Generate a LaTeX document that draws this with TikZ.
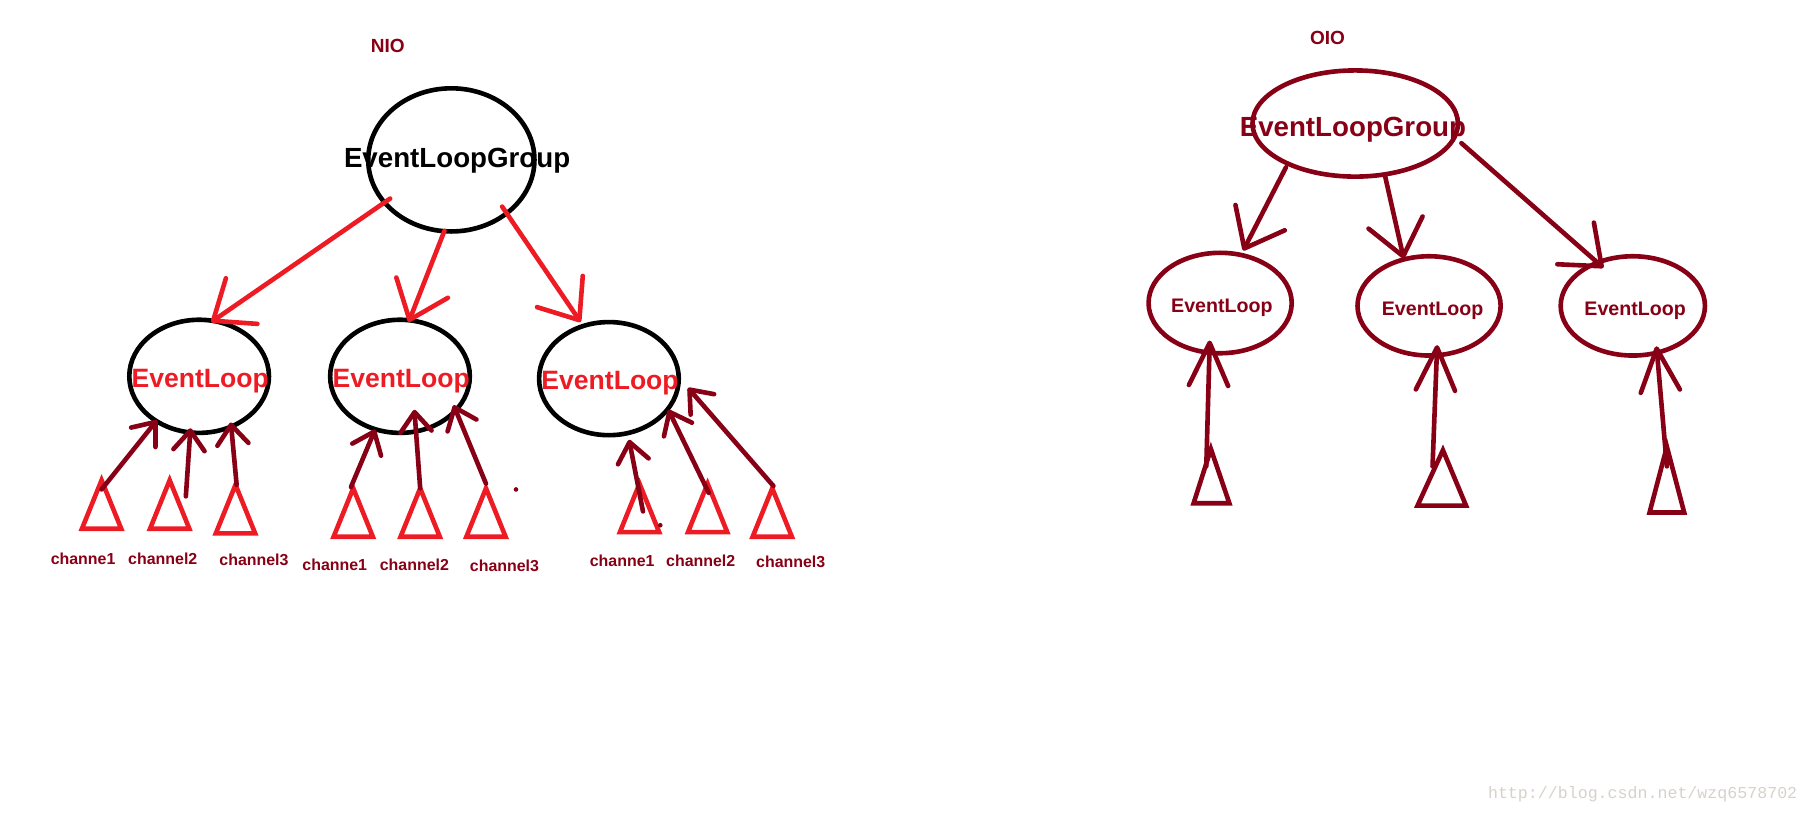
\documentclass[tikz,border=0pt]{standalone}
\usepackage{fontspec}
\setmainfont{Liberation Sans}
\setmonofont{Liberation Mono}
\usetikzlibrary{shapes.geometric,arrows.meta}
\definecolor{paintred}{RGB}{237,28,36}
\definecolor{paintdark}{RGB}{136,0,21}
\definecolor{markgray}{RGB}{214,210,202}
\begin{document}
\begin{tikzpicture}[x=1pt,y=-1pt,
    loop/.style={ellipse,draw,line width=4pt,inner sep=0pt},
    tri/.style={draw=paintred,line width=4pt},
    otri/.style={draw=paintdark,line width=4pt},
    ttl/.style={font=\bfseries\fontsize{16.5}{19}\selectfont,text=paintdark,inner sep=0pt},
    grptxt/.style={font=\bfseries\fontsize{24}{28}\selectfont,anchor=base,inner sep=0pt},
    eltxt/.style={font=\bfseries\fontsize{23}{27}\selectfont,text=paintred,anchor=base,inner sep=0pt},
    oeltxt/.style={font=\bfseries\fontsize{17}{20}\selectfont,text=paintdark,anchor=base,inner sep=0pt},
    chtxt/.style={font=\bfseries\fontsize{13.8}{16}\selectfont,text=paintdark,anchor=base,inner sep=0pt},
    grparrow/.style={line width=4pt,line cap=round,-{Straight Barb[length=30pt,width=48pt,round]}},
    chanarrow/.style={draw=paintdark,line width=4pt,line cap=round,-{Straight Barb[length=17pt,width=27pt,round]}},
    ochanarrow/.style={draw=paintdark,line width=4pt,line cap=round,-{Straight Barb[length=37pt,width=34pt,round]}}]
    \useasboundingbox (0,0) rectangle (1568,707);

    \node[ttl] (nio) at (336,40) {NIO};
    \node[ttl] (oio) at (1150,33) {OIO};

    \node[loop,minimum width=144pt,minimum height=124pt] (ngrp) at (391,138.5) {};
    \node[grptxt] (ngrpt) at (396,145) {EventLoopGroup};
    \node[loop,minimum width=121pt,minimum height=98pt] (nel1) at (172.5,326) {};
    \node[loop,minimum width=121pt,minimum height=98pt] (nel2) at (346.5,326) {};
    \node[loop,minimum width=121pt,minimum height=98pt] (nel3) at (527.5,328) {};
    \node[eltxt] (nel1t) at (173.5,336) {EventLoop};
    \node[eltxt] (nel2t) at (347.5,336) {EventLoop};
    \node[eltxt] (nel3t) at (528.5,337) {EventLoop};

    \draw[grparrow,paintred] ([shift={(-53,33.5)}]ngrp.center) -- ([shift={(10.5,-47)}]nel1.center);
    \draw[grparrow,paintred] ([shift={(-6,61.5)}]ngrp.center) -- ([shift={(7.5,-47)}]nel2.center);
    \draw[grparrow,paintred] ([shift={(44,40.5)}]ngrp.center) -- ([shift={(-24.5,-49)}]nel3.center);

    \foreach \x/\y [count=\i] in {88/416,147/416,204/420,306/423,364/423,421/423,554/419,613/419,669/423}
        \draw[tri] (\x,\y) coordinate (t\i) -- ++(17,42) -- ++(-34,0) -- cycle;

    \foreach \x/\y/\txt [count=\i] in {72/489/channe1,141/489/channel2,220/490/channel3,
        290/494/channe1,359/494/channel2,437/495/channel3,
        539/491/channe1,607/491/channel2,685/492/channel3}
        \node[chtxt] (l\i) at (\x,\y) {\txt};

    \draw[chanarrow] ([shift={(0,8)}]t1) -- ([shift={(-36.5,38)}]nel1.center);
    \draw[chanarrow] ([shift={(14,14)}]t2) -- ([shift={(-7.5,45)}]nel1.center);
    \draw[chanarrow] ([shift={(1,0)}]t3) -- ([shift={(27.5,40)}]nel1.center);
    \draw[chanarrow] ([shift={(-2,-1)}]t4) -- ([shift={(-21.5,46)}]nel2.center);
    \draw[chanarrow] (t5) -- ([shift={(12.5,29)}]nel2.center);
    \draw[chanarrow] ([shift={(0,-4)}]t6) -- ([shift={(46.5,25)}]nel2.center);
    \draw[chanarrow] ([shift={(3,24)}]t7) -- ([shift={(17.5,53)}]nel3.center);
    \draw[chanarrow] ([shift={(1,8)}]t8) -- ([shift={(51.5,27)}]nel3.center);
    \draw[chanarrow] ([shift={(1,-2)}]t9) -- ([shift={(68.5,8)}]nel3.center);
    \fill[paintdark] (447,424) circle (2pt);
    \fill[paintdark] (572,455) circle (2pt);

    \node[loop,draw=paintdark,minimum width=178pt,minimum height=92pt] (ogrp) at (1174,107) {};
    \node[grptxt,text=paintdark] (ogrpt) at (1172,118) {EventLoopGroup};
    \node[loop,draw=paintdark,minimum width=124pt,minimum height=87pt] (oel1) at (1057,262.5) {};
    \node[loop,draw=paintdark,minimum width=124pt,minimum height=86pt] (oel2) at (1238,265) {};
    \node[loop,draw=paintdark,minimum width=125pt,minimum height=86pt] (oel3) at (1414.5,265) {};
    \node[oeltxt] (oel1t) at (1058.5,270.5) {EventLoop};
    \node[oeltxt] (oel2t) at (1241,273) {EventLoop};
    \node[oeltxt] (oel3t) at (1416.5,273) {EventLoop};

    \draw[grparrow,paintdark] ([shift={(-60,38)}]ogrp.center) -- ([shift={(20,-45.5)}]oel1.center);
    \draw[grparrow,paintdark] ([shift={(26,46)}]ogrp.center) -- ([shift={(-22,-41)}]oel2.center);
    \draw[grparrow,paintdark] ([shift={(92,17)}]ogrp.center) -- ([shift={(-25.5,-33)}]oel3.center);

    \draw[otri] (1049,389) coordinate (o1) -- (1065,436) -- (1034,436) -- cycle;
    \draw[otri] (1250,390) coordinate (o2) -- (1270,438) -- (1228,438) -- cycle;
    \draw[otri] (1444,387) coordinate (o3) -- (1459,444) -- (1429,444) -- cycle;
    \draw[ochanarrow] ([shift={(-4,15)}]o1) -- ([shift={(-9,32.5)}]oel1.center);
    \draw[ochanarrow] ([shift={(-9,14)}]o2) -- ([shift={(7,34)}]oel2.center);
    \draw[ochanarrow] ([shift={(0,17)}]o3) -- ([shift={(20.5,35)}]oel3.center);

    \node[font=\ttfamily\fontsize{14.4}{16}\selectfont,text=markgray,inner sep=0pt] (wm) at (1423,688) {http://blog.csdn.net/wzq6578702};
\end{tikzpicture}
\end{document}
